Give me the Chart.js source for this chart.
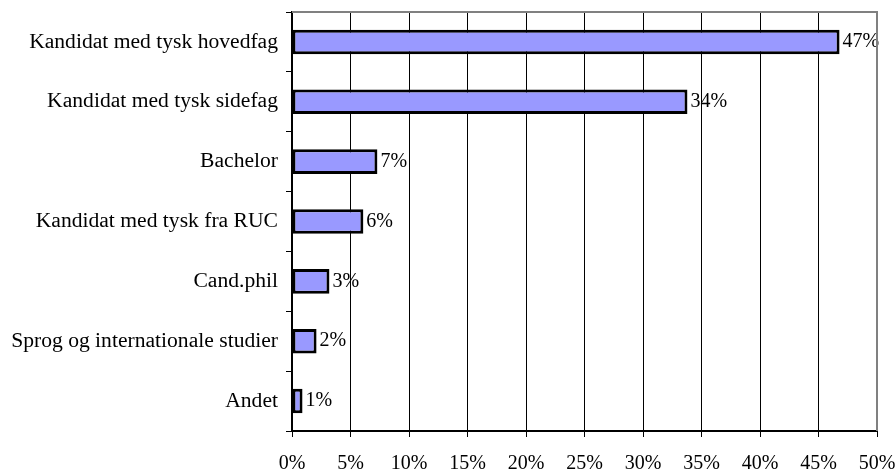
<!DOCTYPE html>
<html>
<head>
<meta charset="utf-8">
<script src="https://cdn.jsdelivr.net/npm/chart.js@4"></script>
<style>
  html, body { margin: 0; padding: 0; background: #fff; }
  #wrap { width: 895px; height: 472px; }
</style>
</head>
<body>
<div id="wrap"><canvas id="chart" width="895" height="472"></canvas></div>
<script>
const categories = [
  "Kandidat med tysk hovedfag",
  "Kandidat med tysk sidefag",
  "Bachelor",
  "Kandidat med tysk fra RUC",
  "Cand.phil",
  "Sprog og internationale studier",
  "Andet"
];
const shares = [46.8, 33.8, 7.3, 6.1, 3.2, 2.1, 0.9];
const shareLabels = ["47%", "34%", "7%", "6%", "3%", "2%", "1%"];
const xTicks = [0, 5, 10, 15, 20, 25, 30, 35, 40, 45, 50];

const family = "'Liberation Serif', 'DejaVu Serif', serif";
const catFont = { family: family, size: 21.6 };
const numFont = { family: family, size: 20 };

// value labels right of each bar + gray frame on top and right
const extras = {
  id: "extras",
  afterDatasetsDraw(c) {
    const ctx = c.ctx;
    const meta = c.getDatasetMeta(0);
    ctx.save();
    ctx.font = numFont.size + "px " + family;
    ctx.fillStyle = "#000";
    ctx.textAlign = "left";
    ctx.textBaseline = "middle";
    meta.data.forEach((bar, i) => {
      ctx.fillText(shareLabels[i], bar.x + 3, bar.y);
    });
    const a = c.chartArea;
    ctx.strokeStyle = "#808080";
    ctx.lineWidth = 2;
    ctx.beginPath();
    ctx.moveTo(a.left, a.top);
    ctx.lineTo(a.right, a.top);
    ctx.lineTo(a.right, a.bottom);
    ctx.stroke();
    ctx.restore();
  }
};

new Chart(document.getElementById("chart").getContext("2d"), {
  type: "bar",
  data: {
    labels: categories,
    datasets: [{
      data: shares,
      backgroundColor: "#9999FF",
      borderColor: "#000",
      borderWidth: 3,
      borderSkipped: false,
      categoryPercentage: 0.41,
      barPercentage: 1
    }]
  },
  options: {
    indexAxis: "y",
    responsive: false,
    animation: false,
    layout: { padding: { left: 0, right: 18, top: 12, bottom: 0 } },
    plugins: { legend: { display: false }, tooltip: { enabled: false } },
    scales: {
      x: {
        min: 0,
        max: 50,
        afterBuildTicks(s) { s.ticks = xTicks.map(v => ({ value: v })); },
        afterFit(s) { s.height = 41; s.paddingLeft = 0; s.paddingRight = 0; },
        ticks: {
          color: "#000",
          font: numFont,
          padding: 15,
          callback: v => v + "%"
        },
        grid: { color: "#000", lineWidth: 1, tickLength: 6 },
        border: { color: "#000", width: 2 }
      },
      y: {
        afterFit(s) { s.width = 292; s.paddingTop = 0; s.paddingBottom = 0; },
        ticks: { color: "#000", font: catFont, padding: 8 },
        grid: { offset: true, drawOnChartArea: false, color: "#000", tickLength: 6 },
        border: { color: "#000", width: 2 }
      }
    }
  },
  plugins: [extras]
});
</script>
</body>
</html>
